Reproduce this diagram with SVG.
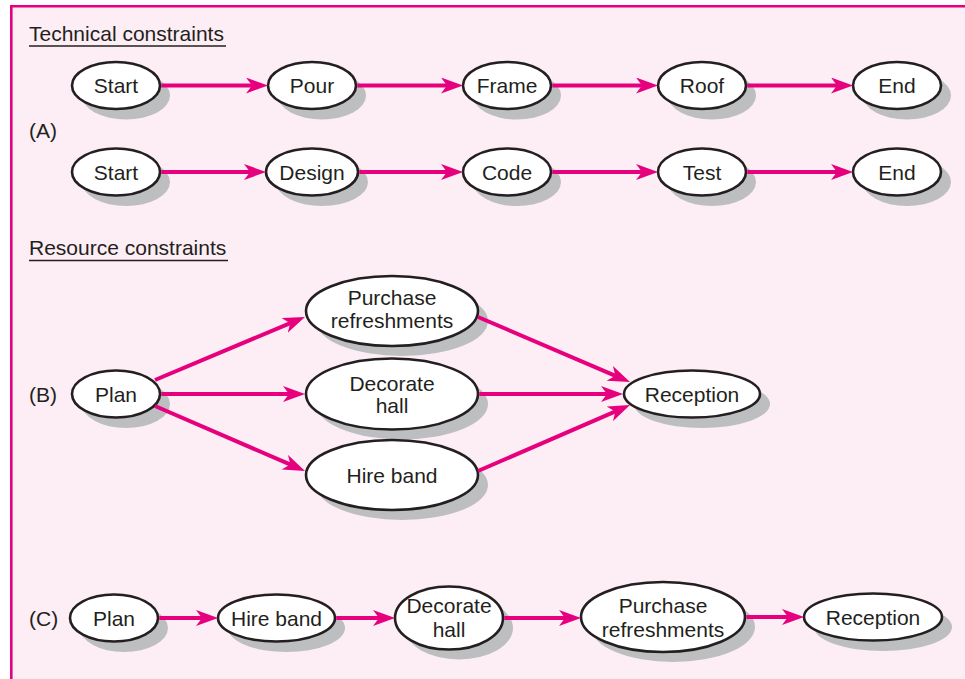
<svg xmlns="http://www.w3.org/2000/svg" width="965" height="679" viewBox="0 0 965 679">
<style>
.bg{fill:#fdedf4}
.frame{stroke:#e6007e;stroke-width:2.6;fill:none}
.sh{fill:#bcbec0}
.nd{fill:#ffffff;stroke:#231f20;stroke-width:2.6}
.t{font-family:"Liberation Sans",Arial,sans-serif;font-size:21px;fill:#231f20;text-anchor:middle}
.h{font-family:"Liberation Sans",Arial,sans-serif;font-size:21px;fill:#231f20}
.ul{stroke:#231f20;stroke-width:1.3}
.c{stroke:#e6007e;stroke-width:4;fill:none;marker-end:url(#ah)}
</style>
<defs>
<marker id="ah" viewBox="0 0 22 16" refX="10" refY="8" markerWidth="22" markerHeight="16" markerUnits="userSpaceOnUse" orient="auto">
<path d="M0,0 L22,8 L0,16 L6,8 Z" fill="#e6007e"/>
</marker>
</defs>
<rect x="0" y="0" width="965" height="679" fill="#ffffff"/>
<rect class="bg" x="11" y="6" width="954" height="673"/>
<path class="frame" d="M11.3,679 L11.3,6.3 L965,6.3"/>

<g id="headings">
<text class="h" x="29" y="41">Technical constraints</text>
<line class="ul" x1="29" y1="46" x2="226" y2="46"/>
<text class="h" x="29" y="255">Resource constraints</text>
<line class="ul" x1="29" y1="260.5" x2="228" y2="260.5"/>
<text class="h" x="29" y="138">(A)</text>
<text class="h" x="29" y="402">(B)</text>
<text class="h" x="29" y="626">(C)</text>
</g>

<g id="a1-start"><ellipse class="sh" cx="126" cy="95.5" rx="44" ry="24"/><ellipse class="nd" cx="116" cy="85.5" rx="44" ry="23.5"/><text class="t" x="116" y="93">Start</text></g>
<g id="a1-pour"><ellipse class="sh" cx="322" cy="95.5" rx="44" ry="24"/><ellipse class="nd" cx="312" cy="85.5" rx="44" ry="23.5"/><text class="t" x="312" y="93">Pour</text></g>
<g id="a1-frame"><ellipse class="sh" cx="517" cy="95.5" rx="44" ry="24"/><ellipse class="nd" cx="507" cy="85.5" rx="44" ry="23.5"/><text class="t" x="507" y="93">Frame</text></g>
<g id="a1-roof"><ellipse class="sh" cx="712" cy="95.5" rx="44" ry="24"/><ellipse class="nd" cx="702" cy="85.5" rx="44" ry="23.5"/><text class="t" x="702" y="93">Roof</text></g>
<g id="a1-end"><ellipse class="sh" cx="907" cy="95.5" rx="44" ry="24"/><ellipse class="nd" cx="897" cy="85.5" rx="44" ry="23.5"/><text class="t" x="897" y="93">End</text></g>

<g id="a2-start"><ellipse class="sh" cx="126" cy="182" rx="44" ry="24"/><ellipse class="nd" cx="116" cy="172" rx="44" ry="23.5"/><text class="t" x="116" y="179.5">Start</text></g>
<g id="a2-design"><ellipse class="sh" cx="322" cy="182" rx="46" ry="24"/><ellipse class="nd" cx="312" cy="172" rx="46" ry="23.5"/><text class="t" x="312" y="179.5">Design</text></g>
<g id="a2-code"><ellipse class="sh" cx="517" cy="182" rx="44" ry="24"/><ellipse class="nd" cx="507" cy="172" rx="44" ry="23.5"/><text class="t" x="507" y="179.5">Code</text></g>
<g id="a2-test"><ellipse class="sh" cx="712" cy="182" rx="44" ry="24"/><ellipse class="nd" cx="702" cy="172" rx="44" ry="23.5"/><text class="t" x="702" y="179.5">Test</text></g>
<g id="a2-end"><ellipse class="sh" cx="907" cy="182" rx="44" ry="24"/><ellipse class="nd" cx="897" cy="172" rx="44" ry="23.5"/><text class="t" x="897" y="179.5">End</text></g>

<g id="b-plan"><ellipse class="sh" cx="126" cy="404" rx="44" ry="24"/><ellipse class="nd" cx="116" cy="394" rx="44" ry="23.5"/><text class="t" x="116" y="401.5">Plan</text></g>
<g id="b-purchase"><ellipse class="sh" cx="402" cy="321" rx="86" ry="35"/><ellipse class="nd" cx="392" cy="311" rx="86" ry="35"/><text class="t" x="392" y="305">Purchase</text><text class="t" x="392" y="328">refreshments</text></g>
<g id="b-decorate"><ellipse class="sh" cx="402" cy="404" rx="86" ry="35.5"/><ellipse class="nd" cx="392" cy="394" rx="86" ry="35.5"/><text class="t" x="392" y="390.5">Decorate</text><text class="t" x="392" y="413">hall</text></g>
<g id="b-hire"><ellipse class="sh" cx="402" cy="485" rx="86" ry="35"/><ellipse class="nd" cx="392" cy="475" rx="86" ry="35"/><text class="t" x="392" y="482.5">Hire band</text></g>
<g id="b-reception"><ellipse class="sh" cx="702" cy="404" rx="68" ry="24"/><ellipse class="nd" cx="692" cy="394" rx="68" ry="23.5"/><text class="t" x="692" y="401.5">Reception</text></g>

<g id="c-plan"><ellipse class="sh" cx="124" cy="628" rx="44" ry="24"/><ellipse class="nd" cx="114" cy="618" rx="44" ry="23.5"/><text class="t" x="114" y="625.5">Plan</text></g>
<g id="c-hire"><ellipse class="sh" cx="286.5" cy="628" rx="58.5" ry="24"/><ellipse class="nd" cx="276.5" cy="618" rx="58.5" ry="23.5"/><text class="t" x="276.5" y="625.5">Hire band</text></g>
<g id="c-decorate"><ellipse class="sh" cx="459" cy="628" rx="54" ry="31.5"/><ellipse class="nd" cx="449" cy="618" rx="54" ry="31.5"/><text class="t" x="449" y="613">Decorate</text><text class="t" x="449" y="637">hall</text></g>
<g id="c-purchase"><ellipse class="sh" cx="673" cy="627" rx="82" ry="35"/><ellipse class="nd" cx="663" cy="617" rx="82" ry="35"/><text class="t" x="663" y="613">Purchase</text><text class="t" x="663" y="636.5">refreshments</text></g>
<g id="c-reception"><ellipse class="sh" cx="883" cy="627" rx="69" ry="24"/><ellipse class="nd" cx="873" cy="617" rx="69" ry="23.5"/><text class="t" x="873" y="624.5">Reception</text></g>

<g id="connectors">
<line class="c" x1="161.3" y1="85.5" x2="256" y2="85.5"/>
<line class="c" x1="357.3" y1="85.5" x2="451" y2="85.5"/>
<line class="c" x1="552.3" y1="85.5" x2="646" y2="85.5"/>
<line class="c" x1="747.3" y1="85.5" x2="841" y2="85.5"/>
<line class="c" x1="161.3" y1="172" x2="254" y2="172"/>
<line class="c" x1="359.3" y1="172" x2="451" y2="172"/>
<line class="c" x1="552.3" y1="172" x2="646" y2="172"/>
<line class="c" x1="747.3" y1="172" x2="841" y2="172"/>

<line class="c" x1="155" y1="380" x2="293.9" y2="321.6"/>
<line class="c" x1="161.3" y1="394" x2="293" y2="394"/>
<line class="c" x1="155" y1="406" x2="294" y2="466.2"/>
<line class="c" x1="478" y1="317" x2="619" y2="377.3"/>
<line class="c" x1="479.3" y1="394" x2="611" y2="394"/>
<line class="c" x1="478" y1="471" x2="619" y2="409.8"/>

<line class="c" x1="159.3" y1="618" x2="206" y2="618"/>
<line class="c" x1="336.3" y1="618" x2="383" y2="618"/>
<line class="c" x1="504.3" y1="618" x2="569" y2="618"/>
<line class="c" x1="746.3" y1="617" x2="792" y2="617"/>
</g>
</svg>
